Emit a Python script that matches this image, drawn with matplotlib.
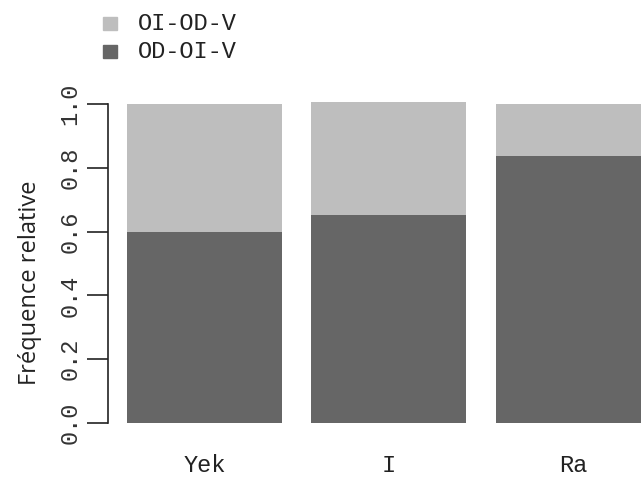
import matplotlib
matplotlib.use("Agg")
import matplotlib.pyplot as plt
from matplotlib.patches import Rectangle

# données
categories = ["Yek", "I", "Ra"]
od_oi_v = [0.599, 0.652, 0.836]   # part basse (foncée)
oi_od_v = [0.401, 0.353, 0.164]   # part haute (claire)
yticks = [0.0, 0.2, 0.4, 0.6, 0.8, 1.0]

DARK, LIGHT = "#666666", "#bebebe"
MONO = ["Liberation Mono", "DejaVu Sans Mono"]
W, H = 641, 479

fig = plt.figure(figsize=(W / 100, H / 100), dpi=100)
# ylim (-0.01, 1.02) -> 0 au pixel 423, 1 au pixel 104
ylo, yhi = -0.01, 1.02
ppu = 319.0
bot_px = 423 + (0 - ylo) * ppu
top_px = 104 - (yhi - 1) * ppu
ax = fig.add_axes([108 / W, (H - bot_px) / H, (W - 108) / W, (bot_px - top_px) / H])

x = range(len(categories))
ax.bar(x, od_oi_v, width=0.84, color=DARK, linewidth=0)
ax.bar(x, oi_od_v, width=0.84, bottom=od_oi_v, color=LIGHT, linewidth=0)
ax.set_xlim(-0.523, 2.366)
ax.set_ylim(ylo, yhi)

for s in ["top", "right", "bottom"]:
    ax.spines[s].set_visible(False)
ax.spines["left"].set_bounds(0, 1)
ax.spines["left"].set_color("#222222")
ax.spines["left"].set_linewidth(1.2)

ax.set_yticks(yticks)
ax.set_yticklabels([f"{v:.1f}" for v in yticks], rotation=90, va="center",
                   family=MONO, fontsize=17, color="#333333")
ax.tick_params(axis="y", length=15, width=1.2, color="#222222", pad=4)
ax.set_xticks(list(x))
ax.set_xticklabels(categories, family=MONO, fontsize=17, color="#222222")
ax.tick_params(axis="x", length=0, pad=20)

fig.text(30 / W, 1 - 283 / H, "Fréquence relative", rotation=90, ha="center", va="center",
         family=["Open Sans", "DejaVu Sans"], fontsize=17, color="#222222")

# légende
for i, (lab, col) in enumerate([("OI-OD-V", LIGHT), ("OD-OI-V", DARK)]):
    yc = 23 + i * 28.5
    fig.patches.append(Rectangle((103 / W, 1 - (yc + 6.5) / H), 14 / W, 13 / H,
                                 transform=fig.transFigure, color=col, figure=fig))
    fig.text(138 / W, 1 - yc / H, lab, ha="left", va="center", family=MONO,
             fontsize=17, color="#222222")

fig.savefig("out.png", dpi=100)
